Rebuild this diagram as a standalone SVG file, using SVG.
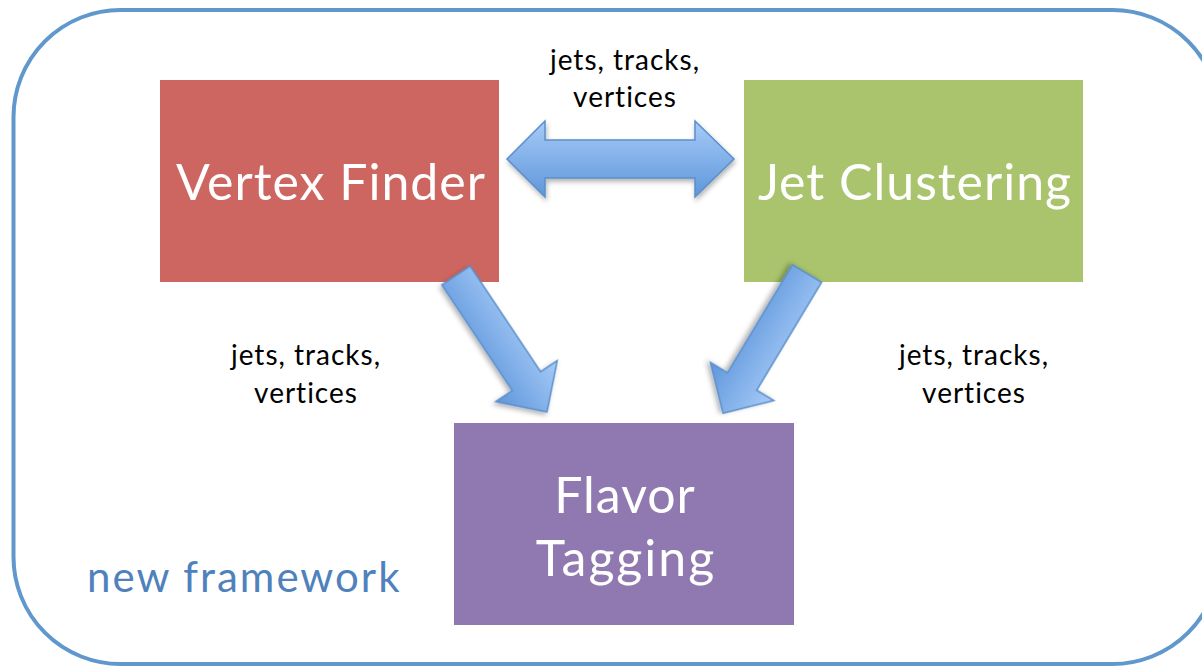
<svg xmlns="http://www.w3.org/2000/svg" width="1202" height="667" viewBox="0 0 1202 667">
<defs>
<linearGradient id="gh" x1="0" y1="0" x2="0" y2="1">
<stop offset="0" stop-color="#a6cbf8"/>
<stop offset="1" stop-color="#5f96da"/>
</linearGradient>
<linearGradient id="gd" gradientUnits="userSpaceOnUse" x1="0" y1="-37" x2="0" y2="37">
<stop offset="0" stop-color="#a6cbf8"/>
<stop offset="1" stop-color="#5f96da"/>
</linearGradient>
<filter id="sh" x="-20%" y="-20%" width="140%" height="140%">
<feDropShadow dx="1" dy="3" stdDeviation="2.5" flood-color="#000" flood-opacity="0.3"/>
</filter>
</defs>
<style>
.box{stroke:none}
.big{font-family:Lato,"Open Sans","Liberation Sans",sans-serif;font-size:50px;letter-spacing:1px;fill:#fff;text-anchor:middle}
.lbl{font-family:Lato,"Open Sans","Liberation Sans",sans-serif;font-size:28px;letter-spacing:1px;fill:#000;text-anchor:middle}
.arrow{stroke:#5a8ecb;stroke-width:1.5;stroke-linejoin:miter;filter:url(#sh)}
</style>
<rect id="frame" x="13.5" y="10" width="1206" height="654" rx="107" ry="107" fill="#fff" stroke="#6097cd" stroke-width="4"/>
<g id="vertex-finder">
<rect class="box" x="160" y="80" width="339" height="202" fill="#cd6660"/>
<text class="big" x="331" y="200">Vertex Finder</text>
</g>
<g id="jet-clustering">
<rect class="box" x="744" y="80" width="339" height="202" fill="#a9c46c"/>
<text class="big" x="915" y="200">Jet Clustering</text>
</g>
<g id="flavor-tagging">
<rect class="box" x="454" y="423" width="340" height="202" fill="#9079b0"/>
<text class="big" x="625" y="513">Flavor</text>
<text class="big" x="626" y="576" style="letter-spacing:2px">Tagging</text>
</g>
<g id="connectors">
<polygon class="arrow" fill="url(#gh)" points="507,159 545,121 545,140 695,140 695,121 734,159 695,197 695,178 545,178 545,197"/>
<g transform="translate(456,275.5) rotate(56.3)">
<polygon class="arrow" fill="url(#gd)" points="0,-17 127,-17 127,-37 164,0 127,37 127,17 0,17"/>
</g>
<g transform="translate(807,273.5) rotate(121)">
<polygon class="arrow" fill="url(#gd)" points="0,-17 126,-17 126,-37 163,0 126,37 126,17 0,17"/>
</g>
</g>
<g id="labels">
<text class="lbl" x="625" y="70">jets, tracks,</text>
<text class="lbl" x="625" y="107">vertices</text>
<text class="lbl" x="306" y="365">jets, tracks,</text>
<text class="lbl" x="306" y="403">vertices</text>
<text class="lbl" x="974" y="365">jets, tracks,</text>
<text class="lbl" x="974" y="403">vertices</text>
</g>
<text id="framework-label" x="87" y="592" font-family="Lato,'Open Sans','Liberation Sans',sans-serif" font-size="42" letter-spacing="2" fill="#4f81bd">new framework</text>
</svg>
